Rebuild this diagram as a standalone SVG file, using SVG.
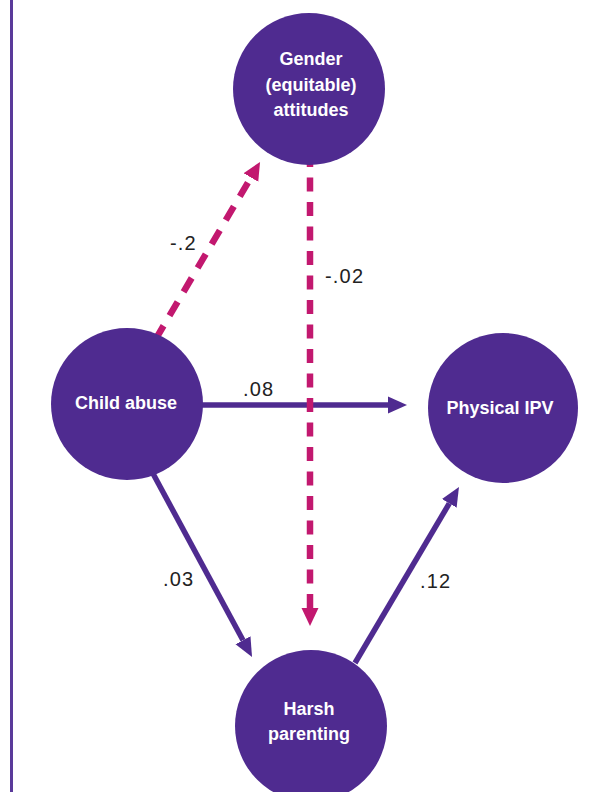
<svg xmlns="http://www.w3.org/2000/svg" width="592" height="792" viewBox="0 0 592 792">
  <style>
    .node { fill: #4f2b90; }
    .label { font-family: "Liberation Sans", Arial, sans-serif; font-weight: bold; font-size: 18px; fill: #ffffff; text-anchor: middle; }
    .coef { font-family: "Liberation Sans", Arial, sans-serif; font-size: 20px; fill: #222222; letter-spacing: 1.2px; }
    .solid { stroke: #4f2b90; stroke-width: 5.5; fill: none; }
    .dashed { stroke: #c2186f; stroke-width: 6.5; fill: none; }
  </style>
  <defs>
    <marker id="headPurple" viewBox="0 -9 19 18" refX="0" refY="0" markerWidth="19" markerHeight="18" markerUnits="userSpaceOnUse" orient="auto">
      <path d="M0,-8.5 L19,0 L0,8.5 Z" fill="#4f2b90"/>
    </marker>
    <marker id="headMagenta" viewBox="0 -9 18 18" refX="0" refY="0" markerWidth="18" markerHeight="18" markerUnits="userSpaceOnUse" orient="auto">
      <path d="M0,-8.5 L18,0 L0,8.5 Z" fill="#c2186f"/>
    </marker>
  </defs>

  <rect width="592" height="792" fill="#ffffff"/>
  <!-- left frame rule -->
  <line x1="11.5" y1="0" x2="11.5" y2="792" stroke="#5a3a9a" stroke-width="3"/>

  <g id="connectors">
    <!-- Child abuse -> Physical IPV -->
    <line class="solid" x1="195" y1="405" x2="388" y2="405" marker-end="url(#headPurple)"/>
    <!-- Child abuse -> Harsh parenting -->
    <line class="solid" x1="150" y1="468" x2="243" y2="640.3" marker-end="url(#headPurple)"/>
    <!-- Harsh parenting -> Physical IPV -->
    <line class="solid" x1="355" y1="663" x2="449.3" y2="503.4" marker-end="url(#headPurple)"/>
    <!-- Child abuse -> Gender attitudes -->
    <line class="dashed" x1="153.5" y1="342.8" x2="250.9" y2="177.5" stroke-dasharray="16 11.7" stroke-dashoffset="23.9" marker-end="url(#headMagenta)"/>
    <!-- Gender attitudes -> Harsh parenting -->
    <line class="dashed" x1="310" y1="153" x2="310" y2="608" stroke-dasharray="14 10.5" marker-end="url(#headMagenta)"/>
  </g>

  <g id="gender">
    <circle class="node" cx="309" cy="89" r="76"/>
    <text class="label" x="311" y="65">Gender</text>
    <text class="label" x="311" y="90.5">(equitable)</text>
    <text class="label" x="311" y="116">attitudes</text>
  </g>

  <g id="child-abuse">
    <circle class="node" cx="127" cy="404" r="76"/>
    <text class="label" x="126" y="409">Child abuse</text>
  </g>

  <g id="physical-ipv">
    <circle class="node" cx="503" cy="408" r="75"/>
    <text class="label" x="500" y="414">Physical IPV</text>
  </g>

  <g id="harsh-parenting">
    <circle class="node" cx="311" cy="726" r="76"/>
    <text class="label" x="309" y="715">Harsh</text>
    <text class="label" x="309" y="740">parenting</text>
  </g>

  <g id="coefficients">
    <text class="coef" x="170" y="250">-.2</text>
    <text class="coef" x="325" y="283">-.02</text>
    <text class="coef" x="243" y="396">.08</text>
    <text class="coef" x="163" y="586">.03</text>
    <text class="coef" x="420" y="588">.12</text>
  </g>
</svg>
